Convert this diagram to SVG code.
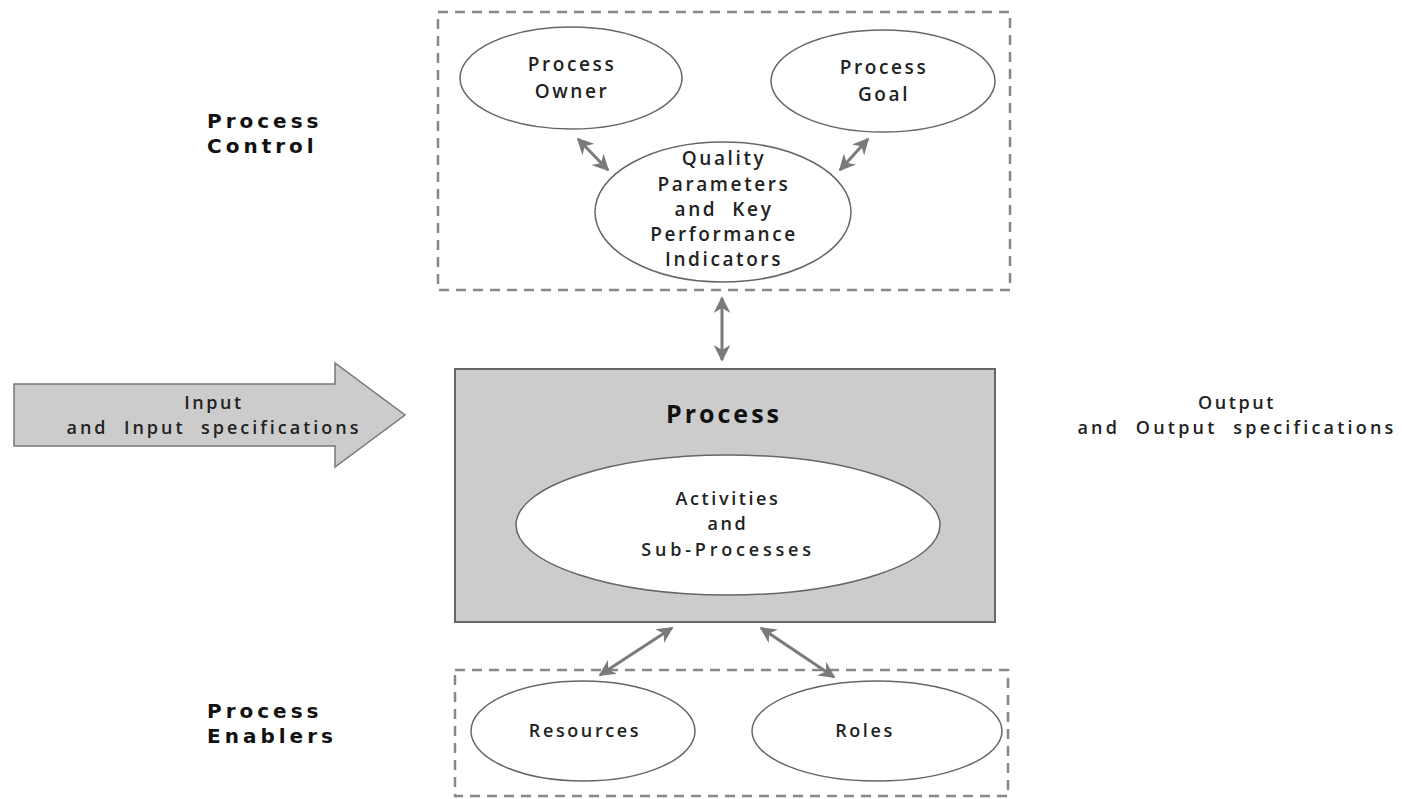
<svg xmlns="http://www.w3.org/2000/svg" width="1402" height="799" viewBox="0 0 1402 799">
<style>
.t{font-family:"Open Sans","DejaVu Sans",sans-serif;font-weight:600;fill:#222;text-anchor:middle;letter-spacing:2.6px}
.lbl{font-family:"DejaVu Sans","Open Sans",sans-serif;font-weight:700;fill:#111;font-size:20px;letter-spacing:4px}
.el{fill:#fff;stroke:#666;stroke-width:1.5}
.dash{fill:none;stroke:#888;stroke-width:2.5;stroke-dasharray:10 7}
.con{stroke:#7a7a7a;stroke-width:3;fill:none;marker-start:url(#ah);marker-end:url(#ah)}
</style>
<defs>
<marker id="ah" viewBox="0 0 10 10" refX="9" refY="5" markerWidth="5.5" markerHeight="5.5" orient="auto-start-reverse" markerUnits="strokeWidth">
<path d="M0,0 L10,5 L0,10 L3,5 Z" fill="#7a7a7a"/>
</marker>
</defs>
<rect width="1402" height="799" fill="#fff"/>
<g id="control-group">
<rect class="dash" x="438" y="12" width="572" height="278"/>
<text class="lbl" x="207" y="128">Process</text>
<text class="lbl" x="207" y="153">Control</text>
</g>
<g id="process-owner">
<ellipse class="el" cx="571" cy="78" rx="111" ry="51"/>
<text class="t" font-size="19" x="572" y="71">Process</text>
<text class="t" font-size="19" x="572" y="98">Owner</text>
</g>
<g id="process-goal">
<ellipse class="el" cx="883" cy="81" rx="112" ry="51"/>
<text class="t" font-size="19" x="884" y="74">Process</text>
<text class="t" font-size="19" x="884" y="101">Goal</text>
</g>
<g id="quality">
<ellipse class="el" cx="723" cy="212" rx="128" ry="70"/>
<text class="t" font-size="19" x="724" y="165">Quality</text>
<text class="t" font-size="19" x="724" y="191">Parameters</text>
<text class="t" font-size="19" x="724" y="216">and&#160; Key</text>
<text class="t" font-size="19" x="724" y="241">Performance</text>
<text class="t" font-size="19" x="724" y="266">Indicators</text>
</g>
<g id="input">
<path d="M14,384 L335,384 L335,363 L405,415 L335,467 L335,446 L14,446 Z" fill="#cccccc" stroke="#777" stroke-width="1.5"/>
<text class="t" font-size="18" x="214" y="409">Input</text>
<text class="t" font-size="18" x="214" y="434" style="letter-spacing:3px">and&#160; Input&#160; specifications</text>
</g>
<g id="process">
<rect x="455" y="369" width="540" height="253" fill="#cccccc" stroke="#666" stroke-width="2"/>
<text class="t" font-size="25" x="724" y="423" style="font-weight:700;fill:#111;letter-spacing:3px">Process</text>
</g>
<g id="activities">
<ellipse class="el" cx="728" cy="525" rx="212" ry="70"/>
<text class="t" font-size="18" x="728" y="505">Activities</text>
<text class="t" font-size="18" x="728" y="530">and</text>
<text class="t" font-size="18" x="728" y="556" style="letter-spacing:3.8px">Sub-Processes</text>
</g>
<g id="output">
<text class="t" font-size="18" x="1237" y="409">Output</text>
<text class="t" font-size="18" x="1237" y="434" style="letter-spacing:3.2px">and&#160; Output&#160; specifications</text>
</g>
<g id="enablers-group">
<rect class="dash" x="455" y="670" width="553" height="126"/>
<text class="lbl" x="207" y="718">Process</text>
<text class="lbl" x="207" y="743">Enablers</text>
</g>
<g id="resources">
<ellipse class="el" cx="583" cy="731" rx="112" ry="50"/>
<text class="t" font-size="18" x="585" y="737">Resources</text>
</g>
<g id="roles">
<ellipse class="el" cx="877" cy="731" rx="125" ry="50"/>
<text class="t" font-size="18" x="865" y="737">Roles</text>
</g>
<g id="connectors">
<line class="con" x1="578" y1="139" x2="608" y2="170"/>
<line class="con" x1="868" y1="139" x2="840" y2="170"/>
<line class="con" x1="722" y1="298" x2="722" y2="360"/>
<line class="con" x1="672" y1="628" x2="600" y2="675"/>
<line class="con" x1="761" y1="628" x2="834" y2="677"/>
</g>
</svg>
